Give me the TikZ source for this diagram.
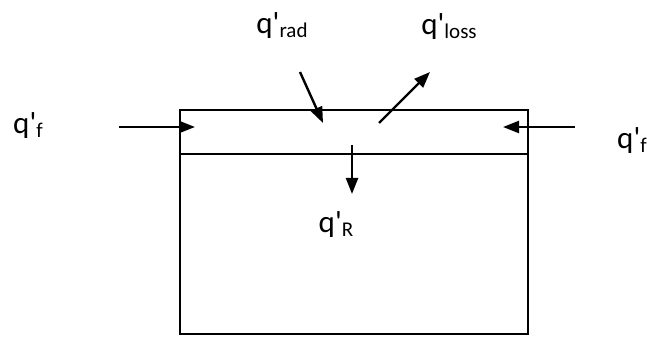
\documentclass[tikz,border=0pt]{standalone}
\usepackage{fontspec}
\setmainfont{Carlito}
\usetikzlibrary{arrows.meta}
\newcommand{\fluxsub}[1]{q\textquotesingle\raisebox{-4pt}{\fontsize{21}{24}\selectfont #1}}

\begin{document}
\begin{tikzpicture}[x=1pt,y=-1pt,>={Triangle[length=16pt,width=12pt]},
		line width=2.4pt,
		flux/.style={font=\fontsize{31}{36}\selectfont, anchor=base, inner sep=0pt}]
		\useasboundingbox (0,0) rectangle (654,339);
		% vessel and top layer
		\node (tank) [draw, minimum width=348pt, minimum height=224pt, inner sep=0pt,
			anchor=north west] at (179,109) {};
		\coordinate (divL) at (179,154);
		\coordinate (divR) at (527,154);
		\draw (divL) -- (divR);
		% flux labels
		\node (fL) [flux] at (28,134) {\fluxsub{f}};
		\node (fR) [flux] at (632,149) {\fluxsub{f}};
		\node (rad) [flux] at (282,34) {\fluxsub{rad}};
		\node (loss) [flux] at (449,35) {\fluxsub{loss}};
		\node (qR) [flux] at (336,233) {\fluxsub{R}};
		% arrows
		\coordinate (fLs) at (119,127);
		\coordinate (fLe) at (195,127);
		\coordinate (fRs) at (575,127);
		\coordinate (fRe) at (503,127);
		\coordinate (rads) at (300,72);
		\coordinate (rade) at (323,123);
		\coordinate (losss) at (379,123);
		\coordinate (losse) at (430,72);
		\coordinate (Rs) at (352,145);
		\coordinate (Re) at (352,194);
		\draw[->] (fLs) -- (fLe);
		\draw[->] (fRs) -- (fRe);
		\draw[->] (rads) -- (rade);
		\draw[->] (losss) -- (losse);
		\draw[->] (Rs) -- (Re);
	\end{tikzpicture}
\end{document}
